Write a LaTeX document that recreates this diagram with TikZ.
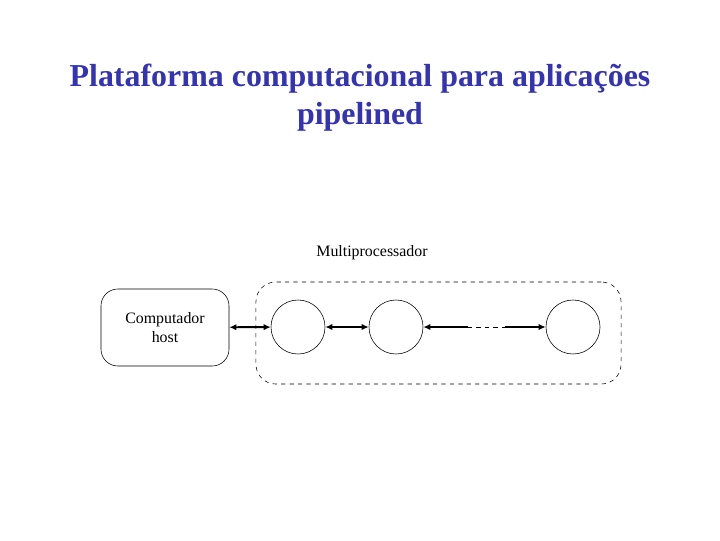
\documentclass[tikz,border=0pt]{standalone}
\usepackage{fontspec}
\setmainfont{Liberation Serif}
\usepackage{xcolor}
\usetikzlibrary{positioning, arrows.meta, calc, shapes, shapes.geometric}
\definecolor{tblue}{RGB}{51,51,180}

\begin{document}
\begin{tikzpicture}[x=0.025cm, y=-0.025cm,
        every node/.style={font=\fontsize{11.3}{13.5}\selectfont},
        hostbox/.style={draw, rounded corners=12pt, minimum width=3.2cm, minimum height=1.925cm, align=center},
        grp/.style={draw, dashed, rounded corners=14pt, minimum width=9.125cm, minimum height=2.55cm},
        proc/.style={draw, circle, minimum size=1.35cm, inner sep=0pt},
        arr/.style={{Latex[length=5pt,width=4.5pt]}-{Latex[length=5pt,width=4.5pt]}, line width=1.4pt},
        half/.style={line width=1.4pt}]
      \useasboundingbox (0,0) rectangle (720,540);
      \node[font=\fontsize{22.7}{27}\selectfont\bfseries, text=tblue, align=center] (title) at (360,98)
        {Plataforma computacional para aplicações\\pipelined};

      \node[grp] (mp) at (438.5,333) {};
      \node (mplabel) at (372,253) {Multiprocessador};
      \node[hostbox] (host) at (165,327.5) {Computador\\host};
      \node[proc] (p1) at (298,327) {};
      \node[proc] (p2) at (396,327) {};
      \node[proc] (p3) at (573,327) {};

      \coordinate (gapa) at (468,327);
      \coordinate (gapb) at (505,327);

      \draw[arr] (host) -- (p1);
      \draw[arr] (p1) -- (p2);
      \draw[half, {Latex[length=5pt,width=4.5pt]}-] (p2) -- (gapa);
      \draw[dashed] (gapa) -- (gapb);
      \draw[half, -{Latex[length=5pt,width=4.5pt]}] (gapb) -- (p3);
    \end{tikzpicture}
\end{document}
